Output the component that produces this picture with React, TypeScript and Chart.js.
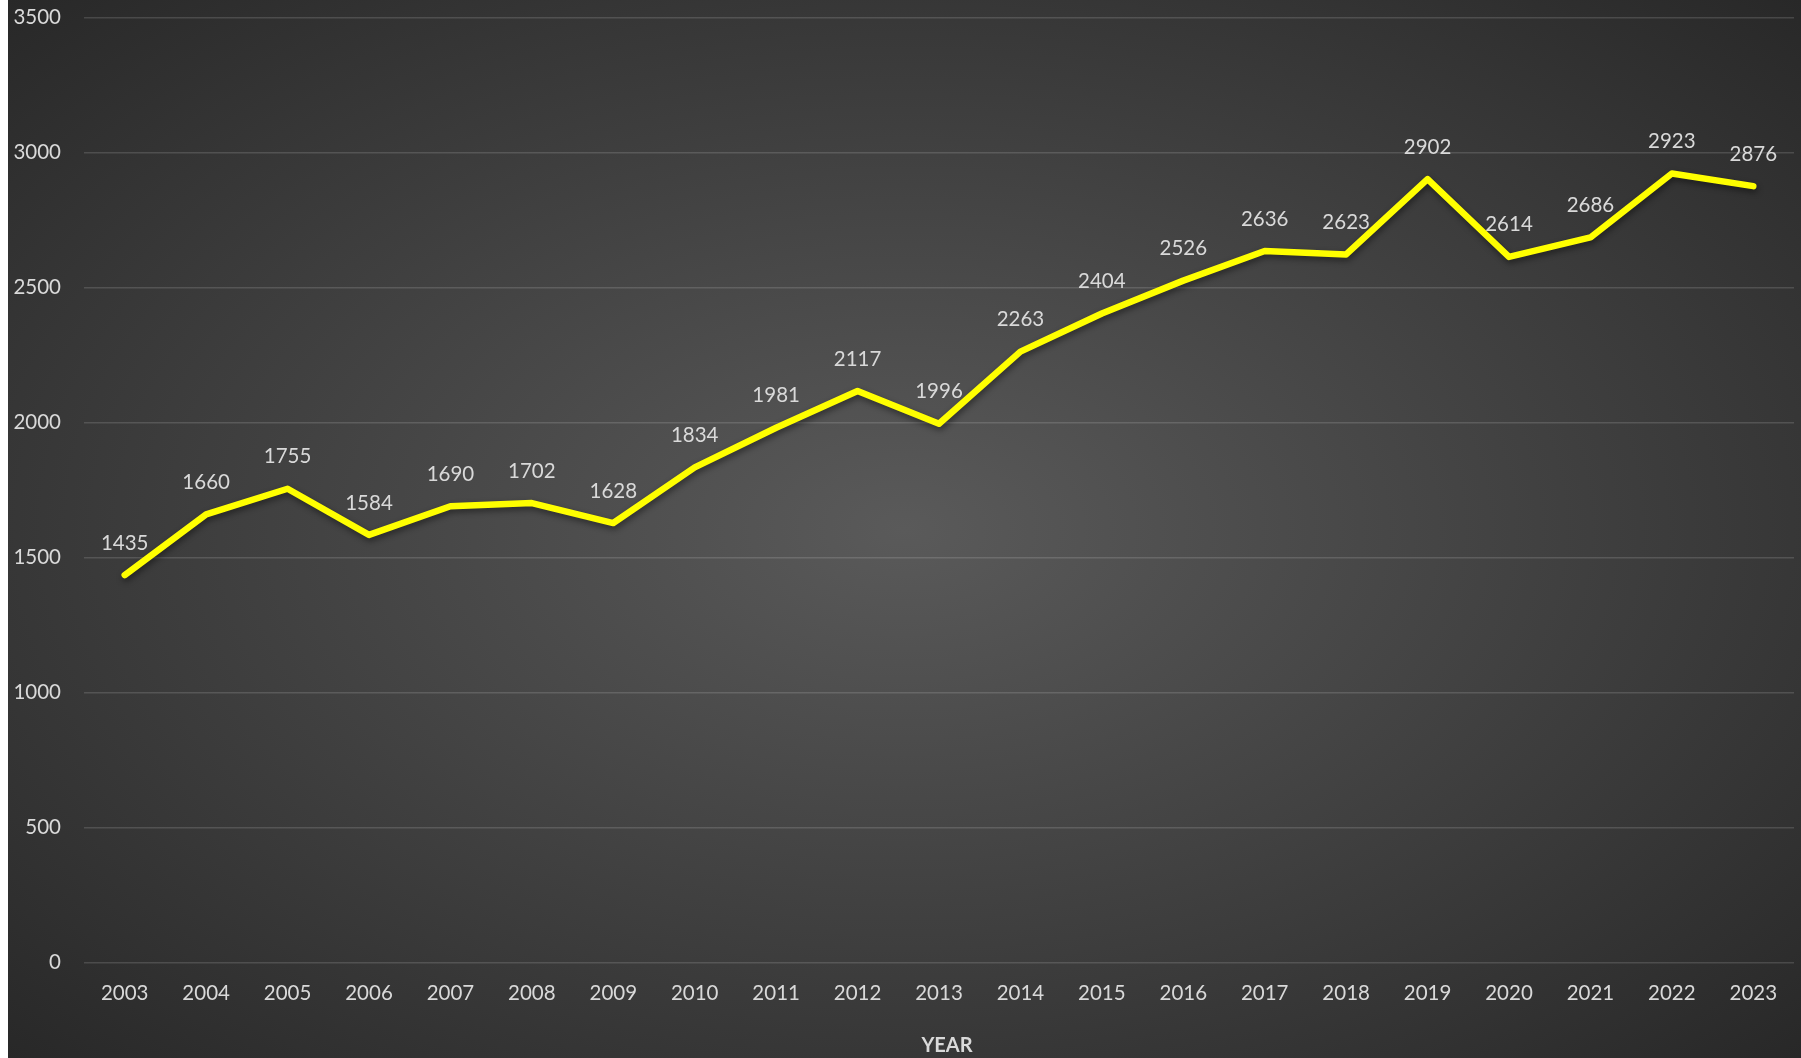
import React, { useEffect, useRef } from "react";
import { Chart, registerables } from "chart.js";

Chart.register(...registerables);

const years = ["2003","2004","2005","2006","2007","2008","2009","2010","2011","2012","2013","2014","2015","2016","2017","2018","2019","2020","2021","2022","2023"];
const values = [1435,1660,1755,1584,1690,1702,1628,1834,1981,2117,1996,2263,2404,2526,2636,2623,2902,2614,2686,2923,2876];
const yMin = 0;
const yMax = 3500;
const yStep = 500;
const xTitle = "YEAR";

const FONT = "Lato, 'Open Sans', sans-serif";
const TEXT = "#d9d9d9";

const labelPlugin = {
  id: "pointLabels",
  afterDatasetsDraw(chart: any) {
    const ctx = chart.ctx;
    const meta = chart.getDatasetMeta(0);
    ctx.save();
    ctx.font = `20.5px ${FONT}`;
    ctx.fillStyle = TEXT;
    ctx.textAlign = "center";
    ctx.textBaseline = "middle";
    meta.data.forEach((pt: any, i: number) => {
      ctx.fillText(String(values[i]), pt.x, pt.y - 32);
    });
    ctx.restore();
  },
};

const titlePlugin = {
  id: "xTitle",
  afterDraw(chart: any) {
    const ctx = chart.ctx;
    const area = chart.chartArea;
    ctx.save();
    ctx.font = `bold 20px ${FONT}`;
    ctx.fillStyle = TEXT;
    ctx.textAlign = "center";
    ctx.textBaseline = "middle";
    ctx.fillText(xTitle, (area.left + area.right) / 2 + 8, chart.height - 12);
    ctx.restore();
  },
};

const shadowPlugin = {
  id: "lineShadow",
  beforeDatasetDraw(chart: any) {
    const ctx = chart.ctx;
    ctx.save();
    ctx.shadowColor = "rgba(0,0,0,0.45)";
    ctx.shadowBlur = 6;
    ctx.shadowOffsetX = 1;
    ctx.shadowOffsetY = 3;
  },
  afterDatasetDraw(chart: any) {
    chart.ctx.restore();
  },
};

export default function App() {
  const ref = useRef<HTMLCanvasElement | null>(null);
  useEffect(() => {
    if (!ref.current) return;
    const chart = new Chart(ref.current, {
      type: "line",
      data: {
        labels: years,
        datasets: [
          {
            data: values,
            borderColor: "#FFFF00",
            borderWidth: 6.5,
            borderCapStyle: "round",
            borderJoinStyle: "round",
            pointRadius: 0,
            pointHoverRadius: 0,
            tension: 0,
            fill: false,
          },
        ],
      },
      options: {
        animation: false,
        responsive: true,
        maintainAspectRatio: false,
        layout: { padding: { top: 17.7, right: 7, bottom: 0, left: 0 } },
        plugins: { legend: { display: false }, tooltip: { enabled: false }, title: { display: false } },
        scales: {
          x: {
            offset: true,
            grid: { display: false, drawTicks: false },
            border: { display: false },
            ticks: { color: TEXT, font: { family: FONT, size: 20.5 }, padding: 19, maxRotation: 0, autoSkip: false },
            afterFit(scale: any) {
              scale.height = 95.5;
            },
          },
          y: {
            min: yMin,
            max: yMax,
            ticks: {
              stepSize: yStep,
              color: TEXT,
              font: { family: FONT, size: 20.5 },
              padding: 23,
              callback: (v: any) => String(v),
            },
            grid: { color: "rgba(255,255,255,0.14)", lineWidth: 1.5, drawTicks: false },
            border: { display: false },
            afterFit(scale: any) {
              scale.width = 76;
              scale.paddingTop = 0;
              scale.paddingBottom = 0;
            },
          },
        },
      },
      plugins: [shadowPlugin, labelPlugin, titlePlugin],
    } as any);
    return () => chart.destroy();
  }, []);
  return (
    <div
      style={{
        position: "absolute",
        left: 8,
        top: 0,
        width: 1793,
        height: 1058,
        background: "radial-gradient(ellipse farthest-corner at 50% 50%, #5a5a5a 0%, #282828 100%)",
      }}
    >
      <canvas ref={ref} />
    </div>
  );
}
